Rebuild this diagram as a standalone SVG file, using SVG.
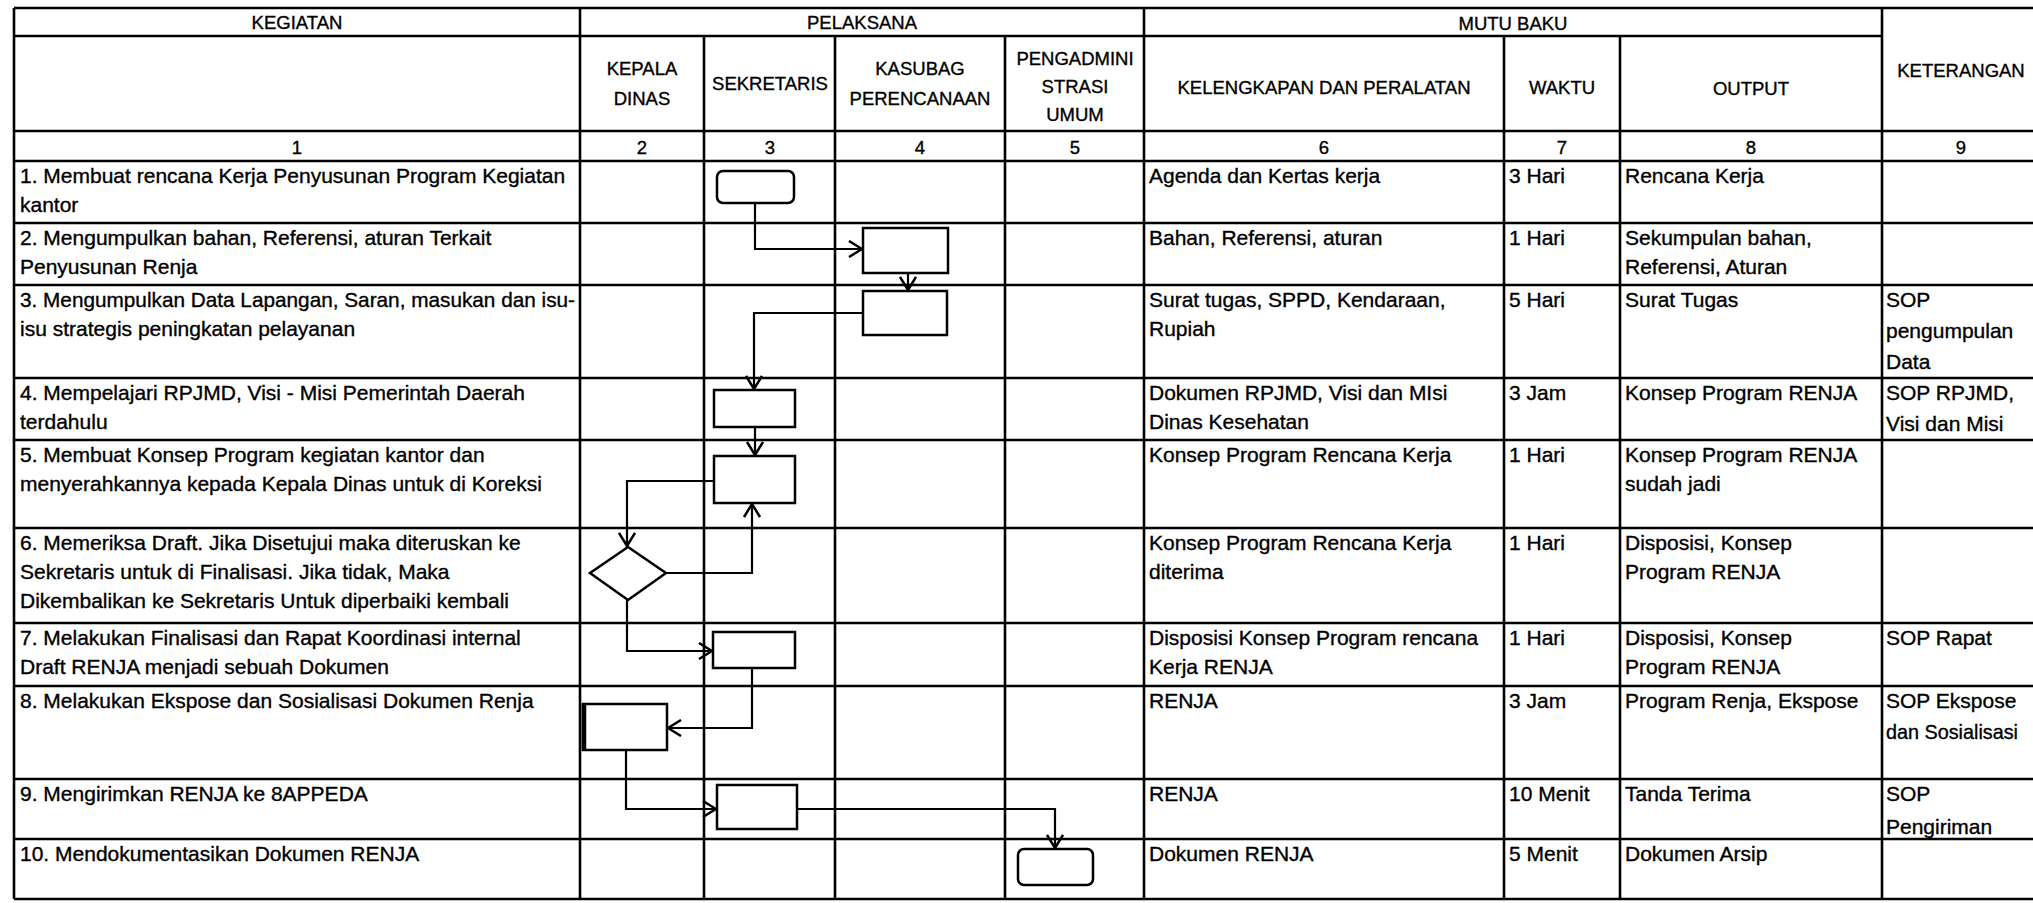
<svg xmlns="http://www.w3.org/2000/svg" width="2033" height="903" viewBox="0 0 2033 903">
<defs>
<style>
text{font-family:"Liberation Sans",Arial,sans-serif;fill:#000;stroke:#000;stroke-width:0.35}
.b{font-size:21px}
.h{font-size:18.5px;text-anchor:middle}
#grid line{stroke:#000;stroke-width:2.6}
.s{fill:#fff;stroke:#000;stroke-width:2.5}
.c{fill:none;stroke:#000;stroke-width:2.2;marker-end:url(#arr)}
</style>
<marker id="arr" markerUnits="userSpaceOnUse" viewBox="0 0 15 18" refX="14" refY="9" markerWidth="15" markerHeight="18" orient="auto">
<path d="M1,1 L14,9 L1,17" fill="none" stroke="#000" stroke-width="2.5"/>
</marker>
</defs>
<rect x="0" y="0" width="2033" height="903" fill="#fff"/>
<g id="grid">
<line x1="14" y1="8" x2="2040" y2="8"/>
<line x1="14" y1="36" x2="1882" y2="36"/>
<line x1="14" y1="131" x2="2040" y2="131"/>
<line x1="14" y1="161" x2="2040" y2="161"/>
<line x1="14" y1="223" x2="2040" y2="223"/>
<line x1="14" y1="285" x2="2040" y2="285"/>
<line x1="14" y1="378" x2="2040" y2="378"/>
<line x1="14" y1="440" x2="2040" y2="440"/>
<line x1="14" y1="528" x2="2040" y2="528"/>
<line x1="14" y1="623" x2="2040" y2="623"/>
<line x1="14" y1="686" x2="2040" y2="686"/>
<line x1="14" y1="779" x2="2040" y2="779"/>
<line x1="14" y1="839" x2="2040" y2="839"/>
<line x1="14" y1="899" x2="2040" y2="899"/>
<line x1="14" y1="8" x2="14" y2="899"/>
<line x1="580" y1="8" x2="580" y2="899"/>
<line x1="1144" y1="8" x2="1144" y2="899"/>
<line x1="1882" y1="8" x2="1882" y2="899"/>
<line x1="704" y1="36" x2="704" y2="899"/>
<line x1="835" y1="36" x2="835" y2="899"/>
<line x1="1005" y1="36" x2="1005" y2="899"/>
<line x1="1504" y1="36" x2="1504" y2="899"/>
<line x1="1620" y1="36" x2="1620" y2="899"/>
</g>
<g id="header">
<text class="h" x="297" y="29">KEGIATAN</text>
<text class="h" x="862" y="29">PELAKSANA</text>
<text class="h" x="1513" y="30">MUTU BAKU</text>
<text class="h" x="1961" y="77">KETERANGAN</text>
<text class="h" x="642" y="75">KEPALA</text>
<text class="h" x="642" y="105">DINAS</text>
<text class="h" x="770" y="90">SEKRETARIS</text>
<text class="h" x="920" y="75">KASUBAG</text>
<text class="h" x="920" y="105">PERENCANAAN</text>
<text class="h" x="1075" y="65">PENGADMINI</text>
<text class="h" x="1075" y="93">STRASI</text>
<text class="h" x="1075" y="121">UMUM</text>
<text class="h" x="1324" y="94">KELENGKAPAN DAN PERALATAN</text>
<text class="h" x="1562" y="94">WAKTU</text>
<text class="h" x="1751" y="95">OUTPUT</text>
<text class="h" x="297" y="154">1</text>
<text class="h" x="642" y="154">2</text>
<text class="h" x="770" y="154">3</text>
<text class="h" x="920" y="154">4</text>
<text class="h" x="1075" y="154">5</text>
<text class="h" x="1324" y="154">6</text>
<text class="h" x="1562" y="154">7</text>
<text class="h" x="1751" y="154">8</text>
<text class="h" x="1961" y="154">9</text>
</g>
<g id="kegiatan">
<text class="b" x="20" y="183">1. Membuat rencana Kerja Penyusunan Program Kegiatan</text>
<text class="b" x="20" y="212">kantor</text>
<text class="b" x="20" y="245">2. Mengumpulkan bahan, Referensi, aturan Terkait</text>
<text class="b" x="20" y="274">Penyusunan Renja</text>
<text class="b" x="20" y="307" textLength="555" lengthAdjust="spacingAndGlyphs">3. Mengumpulkan Data Lapangan, Saran, masukan dan isu-</text>
<text class="b" x="20" y="336">isu strategis peningkatan pelayanan</text>
<text class="b" x="20" y="400">4. Mempelajari RPJMD, Visi - Misi Pemerintah Daerah</text>
<text class="b" x="20" y="429">terdahulu</text>
<text class="b" x="20" y="462">5. Membuat Konsep Program kegiatan kantor dan</text>
<text class="b" x="20" y="491">menyerahkannya kepada Kepala Dinas untuk di Koreksi</text>
<text class="b" x="20" y="550">6. Memeriksa Draft. Jika Disetujui maka diteruskan ke</text>
<text class="b" x="20" y="579">Sekretaris untuk di Finalisasi. Jika tidak, Maka</text>
<text class="b" x="20" y="608">Dikembalikan ke Sekretaris Untuk diperbaiki kembali</text>
<text class="b" x="20" y="645">7. Melakukan Finalisasi dan Rapat Koordinasi internal</text>
<text class="b" x="20" y="674">Draft RENJA menjadi sebuah Dokumen</text>
<text class="b" x="20" y="708">8. Melakukan Ekspose dan Sosialisasi Dokumen Renja</text>
<text class="b" x="20" y="801">9. Mengirimkan RENJA ke 8APPEDA</text>
<text class="b" x="20" y="861">10. Mendokumentasikan Dokumen RENJA</text>
</g>
<g id="kelengkapan">
<text class="b" x="1149" y="183">Agenda dan Kertas kerja</text>
<text class="b" x="1149" y="245">Bahan, Referensi, aturan</text>
<text class="b" x="1149" y="307">Surat tugas, SPPD, Kendaraan,</text>
<text class="b" x="1149" y="336">Rupiah</text>
<text class="b" x="1149" y="400">Dokumen RPJMD, Visi dan MIsi</text>
<text class="b" x="1149" y="429">Dinas Kesehatan</text>
<text class="b" x="1149" y="462">Konsep Program Rencana Kerja</text>
<text class="b" x="1149" y="550">Konsep Program Rencana Kerja</text>
<text class="b" x="1149" y="579">diterima</text>
<text class="b" x="1149" y="645">Disposisi Konsep Program rencana</text>
<text class="b" x="1149" y="674">Kerja RENJA</text>
<text class="b" x="1149" y="708">RENJA</text>
<text class="b" x="1149" y="801">RENJA</text>
<text class="b" x="1149" y="861">Dokumen RENJA</text>
</g>
<g id="waktu">
<text class="b" x="1509" y="183">3 Hari</text>
<text class="b" x="1509" y="245">1 Hari</text>
<text class="b" x="1509" y="307">5 Hari</text>
<text class="b" x="1509" y="400">3 Jam</text>
<text class="b" x="1509" y="462">1 Hari</text>
<text class="b" x="1509" y="550">1 Hari</text>
<text class="b" x="1509" y="645">1 Hari</text>
<text class="b" x="1509" y="708">3 Jam</text>
<text class="b" x="1509" y="801">10 Menit</text>
<text class="b" x="1509" y="861">5 Menit</text>
</g>
<g id="output">
<text class="b" x="1625" y="183">Rencana Kerja</text>
<text class="b" x="1625" y="245">Sekumpulan bahan,</text>
<text class="b" x="1625" y="274">Referensi, Aturan</text>
<text class="b" x="1625" y="307">Surat Tugas</text>
<text class="b" x="1625" y="400">Konsep Program RENJA</text>
<text class="b" x="1625" y="462">Konsep Program RENJA</text>
<text class="b" x="1625" y="491">sudah jadi</text>
<text class="b" x="1625" y="550">Disposisi, Konsep</text>
<text class="b" x="1625" y="579">Program RENJA</text>
<text class="b" x="1625" y="645">Disposisi, Konsep</text>
<text class="b" x="1625" y="674">Program RENJA</text>
<text class="b" x="1625" y="708">Program Renja, Ekspose</text>
<text class="b" x="1625" y="801">Tanda Terima</text>
<text class="b" x="1625" y="861">Dokumen Arsip</text>
</g>
<g id="keterangan">
<text class="b" x="1886" y="307">SOP</text>
<text class="b" x="1886" y="338">pengumpulan</text>
<text class="b" x="1886" y="369">Data</text>
<text class="b" x="1886" y="400">SOP RPJMD,</text>
<text class="b" x="1886" y="431">Visi dan Misi</text>
<text class="b" x="1886" y="645">SOP Rapat</text>
<text class="b" x="1886" y="708">SOP Ekspose</text>
<text class="b" x="1886" y="739" textLength="132" lengthAdjust="spacingAndGlyphs">dan Sosialisasi</text>
<text class="b" x="1886" y="801">SOP</text>
<text class="b" x="1886" y="834">Pengiriman</text>
</g>
<g id="connectors">
<path class="c" d="M755,203 V249 H862"/>
<path class="c" d="M908,273 V290"/>
<path class="c" d="M863,313 H754 V389"/>
<path class="c" d="M755,427 V455"/>
<path class="c" d="M714,481 H627 V546"/>
<path class="c" d="M666,573 H752 V504"/>
<path class="c" d="M627,600 V651 H712"/>
<path class="c" d="M752,668 V728 H668"/>
<path class="c" d="M626,750 V809 H716"/>
<path class="c" d="M797,809 H1055 V848"/>
</g>
<g id="n1"><rect class="s" x="717" y="171" width="77" height="32" rx="6"/></g>
<g id="n2"><rect class="s" x="863" y="228" width="85" height="45"/></g>
<g id="n3"><rect class="s" x="863" y="291" width="84" height="44"/></g>
<g id="n4"><rect class="s" x="714" y="390" width="81" height="37"/></g>
<g id="n5"><rect class="s" x="714" y="456" width="81" height="47"/></g>
<g id="n6"><polygon class="s" points="628,547 666,573 628,600 590,573"/></g>
<g id="n7"><rect class="s" x="713" y="632" width="82" height="36"/></g>
<g id="n8"><rect class="s" x="583" y="704" width="84" height="46" stroke-width="3"/><line x1="584" y1="704" x2="584" y2="750" stroke="#000" stroke-width="4.5"/></g>
<g id="n9"><rect class="s" x="717" y="785" width="80" height="44"/></g>
<g id="n10"><rect class="s" x="1018" y="849" width="75" height="36" rx="6"/></g>
</svg>
